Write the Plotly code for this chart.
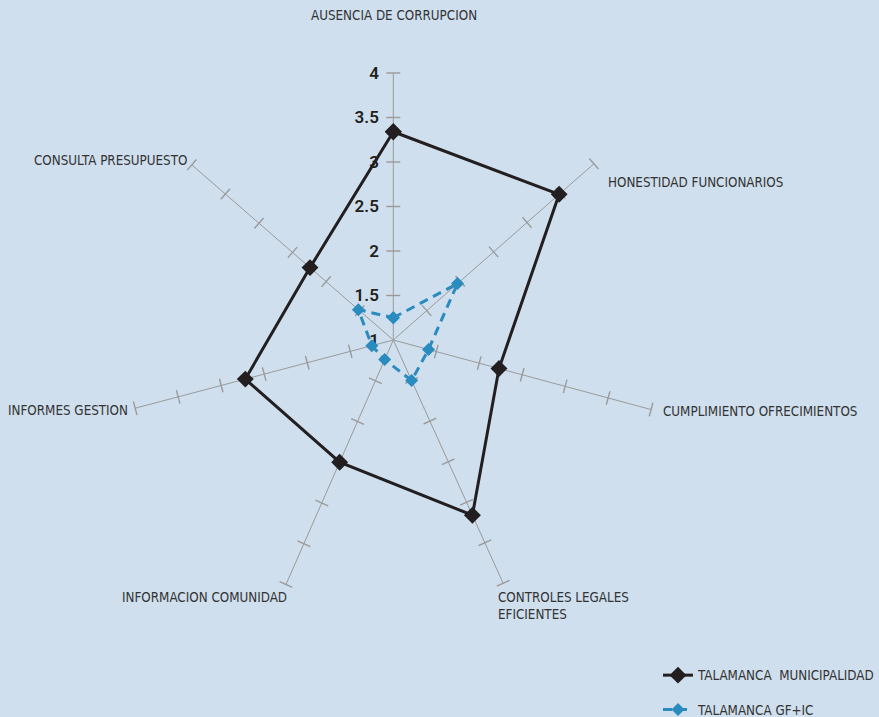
import plotly.graph_objects as go

# Survey dimensions (clockwise from the top spoke)
categories = [
    "AUSENCIA DE CORRUPCION",
    "HONESTIDAD FUNCIONARIOS",
    "CUMPLIMIENTO OFRECIMIENTOS",
    "CONTROLES LEGALES EFICIENTES",
    "INFORMACION COMUNIDAD",
    "INFORMES GESTION",
    "CONSULTA PRESUPUESTO",
]
axis_labels = [
    "AUSENCIA DE CORRUPCION",
    "HONESTIDAD FUNCIONARIOS",
    "CUMPLIMIENTO OFRECIMIENTOS",
    "CONTROLES LEGALES<br>EFICIENTES",
    "INFORMACION COMUNIDAD",
    "INFORMES GESTION",
    "CONSULTA PRESUPUESTO",
]

municipalidad = [3.34, 3.48, 2.23, 3.16, 2.50, 2.72, 2.24]
gf_ic = [1.25, 1.96, 1.41, 1.50, 1.24, 1.25, 1.52]

series_names = ["TALAMANCA  MUNICIPALIDAD", "TALAMANCA GF+IC"]

radial_ticks = [1, 1.5, 2, 2.5, 3, 3.5, 4]
radial_ticktext = ["1", "1.5", "2", "2.5", "3", "3.5", "4"]

# Spoke directions of the hand-laid diagram (degrees clockwise from top)
spoke_bearing = [0, 48.7, 105.1, 155.7, 203.7, 255.2, 311.0]

BG = "#cfdfee"
GRID = "#9a9a9a"
INK = "#231f20"
BLUE = "#2a8bbf"
LABEL = "#333333"
FONT = "Liberation Sans Narrow, DejaVu Sans Condensed, Roboto, sans-serif"
NUM_FONT = "Roboto, sans-serif"

W, H = 879, 717
CX, CY, R = 393.3, 340.0, 267.0  # polar centre and radius in pixels


def closed(values):
    return list(values) + [values[0]]


fig = go.Figure()

# Cross ticks on every spoke, at each radial step beyond the centre
tick_r, tick_theta = [], []
for b in spoke_bearing:
    for rv in radial_ticks[1:]:
        tick_r.append(rv)
        tick_theta.append(b)

fig.add_trace(go.Scatterpolar(
    r=tick_r, theta=tick_theta, mode="markers",
    marker=dict(symbol="line-ew", size=10, angle=tick_theta,
                line=dict(color=GRID, width=1.4)),
    hoverinfo="skip", showlegend=False, cliponaxis=False,
))

fig.add_trace(go.Scatterpolar(
    r=closed(municipalidad), theta=closed(spoke_bearing),
    text=closed(categories), hoverinfo="text+r",
    mode="lines+markers", name=series_names[0], legendgroup="a",
    line=dict(color=INK, width=3),
    marker=dict(symbol="diamond", size=13, color=INK),
    cliponaxis=False,
))

fig.add_trace(go.Scatterpolar(
    r=closed(gf_ic), theta=closed(spoke_bearing),
    text=closed(categories), hoverinfo="text+r",
    mode="lines+markers", name=series_names[1], legendgroup="b",
    line=dict(color=BLUE, width=3, dash="9px,6px"),
    marker=dict(symbol="diamond", size=10, color=BLUE),
    cliponaxis=False,
))


def px(x, y):
    return x / W, 1 - y / H


label_pos = [
    (394, 16, "center"),
    (606, 182, "left"),
    (661, 412, "left"),
    (496, 606, "left"),
    (289, 597, "right"),
    (130, 410.5, "right"),
    (189, 160, "right"),
]
for text, (x, y, anchor) in zip(axis_labels, label_pos):
    ax, ay = px(x, y)
    fig.add_annotation(
        x=ax, y=ay, xref="paper", yref="paper", text=text,
        showarrow=False, xanchor=anchor, yanchor="middle", align="left",
        font=dict(family=FONT, size=13.3, color=LABEL),
    )

fig.update_layout(
    width=W, height=H,
    margin=dict(l=0, r=0, t=0, b=0, autoexpand=False),
    paper_bgcolor=BG,
    plot_bgcolor=BG,
    polar=dict(
        domain=dict(x=[(CX - R) / W, (CX + R) / W],
                    y=[1 - (CY + R) / H, 1 - (CY - R) / H]),
        bgcolor=BG,
        angularaxis=dict(
            type="linear", thetaunit="degrees",
            direction="clockwise", rotation=90,
            tickvals=spoke_bearing,
            showline=False, showticklabels=False, ticks="",
            showgrid=True, gridcolor=GRID, gridwidth=1.4,
            layer="below traces",
        ),
        radialaxis=dict(
            range=[1, 4], angle=90, side="counterclockwise",
            tickvals=radial_ticks, ticktext=radial_ticktext, tickangle=90,
            tickfont=dict(family=NUM_FONT, size=17, color=INK, weight=600),
            ticks="outside", ticklen=8, tickcolor="rgba(0,0,0,0)",
            showline=False, showgrid=False,
            layer="below traces",
        ),
    ),
    showlegend=True,
    legend=dict(
        x=658 / W, y=1 - 660 / H, xanchor="left", yanchor="top",
        bgcolor="rgba(0,0,0,0)", traceorder="grouped", tracegroupgap=14,
        font=dict(family=FONT, size=13.3, color=LABEL),
    ),
)

fig.write_html("out.html")
